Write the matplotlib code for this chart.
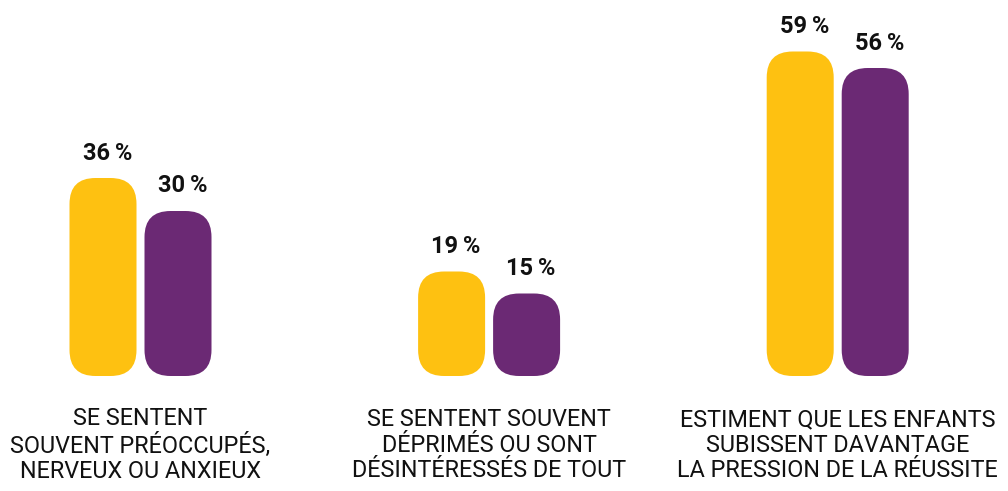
import matplotlib
matplotlib.use("Agg")
import matplotlib.pyplot as plt
from matplotlib.patches import FancyBboxPatch

categories = [
    "SE SENTENT\nSOUVENT PRÉOCCUPÉS,\nNERVEUX OU ANXIEUX",
    "SE SENTENT SOUVENT\nDÉPRIMÉS OU SONT\nDÉSINTÉRESSÉS DE TOUT",
    "ESTIMENT QUE LES ENFANTS\nSUBISSENT DAVANTAGE\nLA PRESSION DE LA RÉUSSITE",
]
series_a = [36, 19, 59]   # yellow
series_b = [30, 15, 56]   # purple
colors = ["#FEC111", "#6B2974"]

W, H = 1008, 491
fig = plt.figure(figsize=(W / 100, H / 100), dpi=100)
px_per_unit_x = 348.6
px_per_pct = 5.5
base_px = 376  # from top
ymax = 65
ax = fig.add_axes([0, (H - base_px) / H, 1, ymax * px_per_pct / H])
ax.set_xlim(-140.5 / px_per_unit_x, (W - 140.5) / px_per_unit_x)
ax.set_ylim(0, ymax)
ax.axis("off")

bar_w = 67 / px_per_unit_x
offset = 37.5 / px_per_unit_x
rx = 26 / px_per_unit_x
ry = 26 / px_per_pct

for i in range(len(categories)):
    for vals, col, sgn in ((series_a, colors[0], -1), (series_b, colors[1], 1)):
        v = vals[i]
        xc = i + sgn * offset
        p = FancyBboxPatch((xc - bar_w / 2, 0), bar_w, v,
                           boxstyle=f"round,pad=0,rounding_size={rx}",
                           mutation_aspect=ry / rx,
                           facecolor=col, edgecolor="none")
        ax.add_patch(p)
        ax.annotate(f"{v}\u2009%", xy=(xc, v), xytext=(4.5, 25), textcoords="offset pixels",
                    ha="center", va="center", fontsize=17, fontweight="bold",
                    family=["Roboto", "DejaVu Sans"], color="#111111")
    ax.text(i, -(445 - base_px) / px_per_pct, categories[i], ha="center", va="center",
            fontsize=16.8, family=["Roboto", "DejaVu Sans"], color="#111111",
            linespacing=1.13, clip_on=False)

fig.savefig("out.png", dpi=100)
